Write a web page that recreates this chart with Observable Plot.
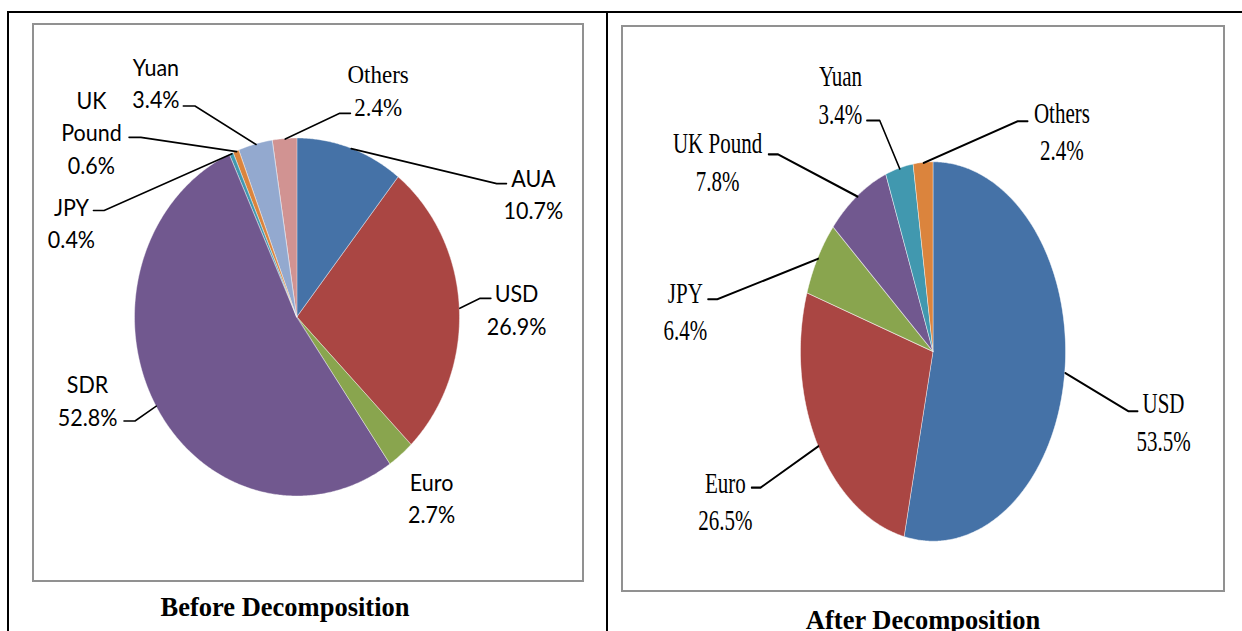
<!DOCTYPE html>
<html><head><meta charset="utf-8">
<script src="https://cdn.jsdelivr.net/npm/d3@7"></script>
<script src="https://cdn.jsdelivr.net/npm/@observablehq/plot@0.6"></script>
<style>
html,body{margin:0;padding:0;background:#fff;}
body{width:1242px;height:631px;position:relative;overflow:hidden;}
.rule{position:absolute;background:#000;}
.frame{position:absolute;box-sizing:border-box;border:2px solid #919191;}
.holder{position:absolute;transform-origin:0 0;}
.holder svg{display:block;overflow:visible;}
.title{position:absolute;font-family:"Liberation Serif","Times New Roman",serif;font-weight:bold;font-size:26.5px;line-height:1;text-align:center;white-space:nowrap;color:#000;}
</style></head><body>
<div class="rule" style="left:7px;top:11px;width:1235px;height:2px"></div>
<div class="rule" style="left:7px;top:11px;width:2px;height:620px"></div>
<div class="rule" style="left:606px;top:11px;width:2px;height:620px"></div>
<div class="frame" style="left:32px;top:23px;width:552px;height:559px"></div>
<div class="frame" style="left:621px;top:25px;width:604px;height:567px"></div>
<div id="left" class="holder" style="left:34px;top:25px;transform:scale(1,1.1015)"></div>
<div id="right" class="holder" style="left:623px;top:27px;transform:scale(1,1.432)"></div>
<div class="title" style="left:85px;top:594px;width:400px">Before Decomposition</div>
<div class="title" style="left:723px;top:607px;width:400px">After Decomposition</div>
<script>
// ---- data ----
const leftNames  = ["AUA", "USD", "Euro", "SDR", "JPY", "UK Pound", "Yuan", "Others"];
const leftValues = [10.7, 26.9, 2.7, 52.8, 0.4, 0.6, 3.4, 2.4];
const leftColors = ["#4572A7", "#AA4643", "#89A54E", "#71588F", "#4198AF", "#DB843D", "#93A9CF", "#D19392"];

const rightNames  = ["USD", "Euro", "JPY", "UK Pound", "Yuan", "Others"];
const rightValues = [53.5, 26.5, 6.4, 7.8, 3.4, 2.4];
const rightColors = ["#4572A7", "#AA4643", "#89A54E", "#71588F", "#4198AF", "#DB843D"];

// ---- label layout (in pie-radius units, relative to pie centre) ----
const leftLabelPos = [[1.452, 0.697], [1.348, 0.054], [0.825, -1.0], [-1.292, -0.455], [-1.391, 0.535], [-1.268, 1.044], [-0.871, 1.317], [0.496, 1.279]];
const leftLeaderBends = [
  [[1.226, 0.748], [1.286, 0.748]],
  [[1.121, 0.107], [1.19, 0.107]],
  null,
  [[-1.0, -0.578], [-1.068, -0.578]],
  [[-1.19, 0.598], [-1.256, 0.598]],
  [[-0.964, 1.007], [-1.037, 1.007]],
  [[-0.631, 1.182], [-0.703, 1.182]],
  [[0.26, 1.141], [0.326, 1.141]]
];
const rightLabelPos = [[1.736, -0.358], [-1.571, -0.778], [-1.873, 0.225], [-1.63, 1.013], [-0.702, 1.365], [0.969, 1.174]];
const rightLeaderBends = [
  [[1.471, -0.311], [1.541, -0.311]],
  [[-1.306, -0.714], [-1.373, -0.714]],
  [[-1.632, 0.279], [-1.702, 0.279]],
  [[-1.175, 1.043], [-1.245, 1.043]],
  [[-0.406, 1.221], [-0.503, 1.221]],
  [[0.635, 1.217], [0.711, 1.217]]
];

function buildPie(names, values) {
  const arcs = d3.pie().sort(null).value(d => d)(values);
  const pts = [];
  const mids = [];
  arcs.forEach((a, i) => {
    const steps = Math.max(2, Math.ceil((a.endAngle - a.startAngle) / (Math.PI / 360)));
    for (let s = 0; s <= steps; s++) {
      const t = a.startAngle + (a.endAngle - a.startAngle) * s / steps;
      pts.push({name: names[i], x: Math.sin(t), y: Math.cos(t)});
    }
    const m = (a.startAngle + a.endAngle) / 2;
    mids.push([Math.sin(m), Math.cos(m)]);
  });
  return {pts, mids};
}

function makePie(opts) {
  const {names, values, colors, labelPos, bends, width, height, cx, cy, r, wrap, sansFont, serifFont, fontSize, lineHeight, serifNames, serifSize, serifLineHeight, leaderWidth} = opts;
  const {pts, mids} = buildPie(names, values);
  const leaders = [];
  names.forEach((n, i) => {
    if (!bends[i]) return;
    const start = mids[i];
    [start, bends[i][0], bends[i][1]].forEach(p => leaders.push({name: n, x: p[0], y: p[1]}));
  });
  const labels = names.map((n, i) => ({
    name: n,
    x: labelPos[i][0],
    y: labelPos[i][1],
    text: (wrap ? n.replace(" ", "\n") : n) + "\n" + values[i].toFixed(1) + "%"
  }));
  const marks = [
    Plot.area(pts, {x1: 0, y1: 0, x2: "x", y2: "y", z: "name", fill: "name", stroke: "white", strokeWidth: 0.7, strokeOpacity: 0.55, curve: "linear"}),
    Plot.line(leaders, {x: "x", y: "y", z: "name", stroke: "black", strokeWidth: leaderWidth}),
    Plot.text(labels.filter(d => !serifNames.includes(d.name)), {x: "x", y: "y", text: "text", fontFamily: sansFont, fontSize, lineHeight, lineAnchor: "middle", textAnchor: "middle", fill: "black"})
  ];
  if (serifNames.length) {
    marks.push(Plot.text(labels.filter(d => serifNames.includes(d.name)), {x: "x", y: "y", text: "text", fontFamily: serifFont, fontSize: serifSize, lineHeight: serifLineHeight, lineAnchor: "middle", textAnchor: "middle", fill: "black"}));
  }
  return Plot.plot({
    width, height, margin: 0,
    style: {background: "transparent", overflow: "visible"},
    x: {domain: [-cx / r, (width - cx) / r], axis: null},
    y: {domain: [-(height - cy) / r, cy / r], axis: null},
    color: {domain: names, range: colors},
    marks
  });
}

document.getElementById("left").appendChild(makePie({
  names: leftNames, values: leftValues, colors: leftColors,
  labelPos: leftLabelPos, bends: leftLeaderBends,
  width: 548, height: 504, cx: 263, cy: 265.1, r: 162.5, wrap: true,
  sansFont: "Lato, 'Open Sans', sans-serif", serifFont: "'Liberation Serif', 'Times New Roman', serif",
  fontSize: 21.5, lineHeight: 1.372,
  serifNames: ["Others"], serifSize: 23, serifLineHeight: 1.3,
  leaderWidth: 1.5
}));

document.getElementById("right").appendChild(makePie({
  names: rightNames, values: rightValues, colors: rightColors,
  labelPos: rightLabelPos, bends: rightLeaderBends,
  width: 600, height: 393, cx: 310, cy: 226.6, r: 132.5, wrap: false,
  sansFont: "'Liberation Serif', 'Times New Roman', serif", serifFont: "'Liberation Serif', 'Times New Roman', serif",
  fontSize: 21, lineHeight: 1.243,
  serifNames: [], serifSize: 21, serifLineHeight: 1.243,
  leaderWidth: 1.5
}));
</script>
</body></html>
